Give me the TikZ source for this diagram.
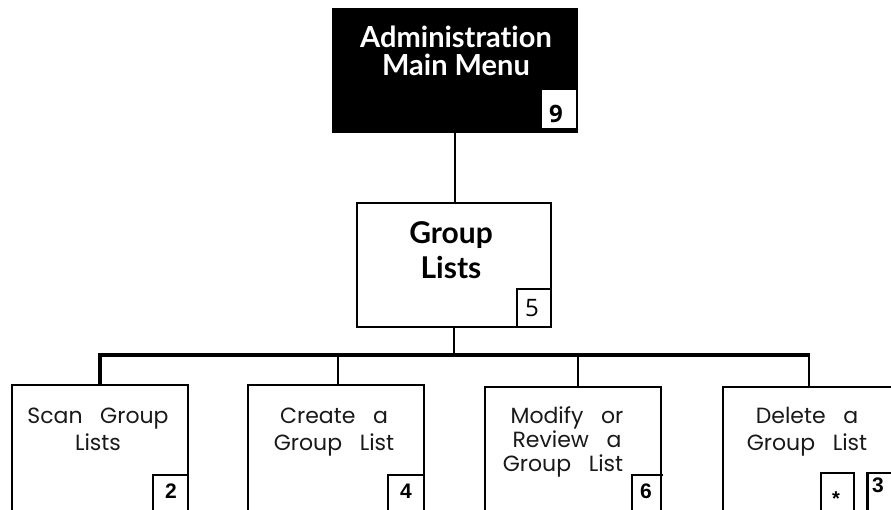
\documentclass[tikz,border=0pt]{standalone}
\usepackage{fontspec}
\setmainfont{Open Sans}
\newfontfamily\titlefont{Lato}[Ligatures={NoCommon}]
\newfontfamily\leaffont{Poppins}
\newfontfamily\numfont{Liberation Sans}
\newcommand{\wsp}{\hspace{0.8em}}
\begin{document}
\begin{tikzpicture}[x=1pt,y=-1pt,
  frame/.style={draw,line width=1.2pt,inner sep=0pt,outer sep=0pt},
  numbox/.style={frame,fill=white},
  titletxt/.style={font=\titlefont\bfseries\fontsize{29}{30}\selectfont,inner sep=0pt,anchor=base},
  grptxt/.style={font=\titlefont\bfseries\fontsize{30}{30}\selectfont,inner sep=0pt,anchor=base},
  leaftxt/.style={font=\leaffont\fontsize{22}{24}\selectfont,inner sep=0pt,anchor=base,text=black!90},
  numtxt/.style={font=\numfont\bfseries\fontsize{21}{24}\selectfont,inner sep=0pt,anchor=base},
  toptxt/.style={font=\bfseries\fontsize{24}{26}\selectfont,inner sep=0pt,anchor=base},
  thinline/.style={line width=1.2pt}
]
\useasboundingbox (0,0) rectangle (891,509);
\clip (0,0) rectangle (891,509);
% top box
\node[fill=black,inner sep=0pt,minimum width=246pt,minimum height=125pt] (top) at (455,70.5) {};
\node[fill=white,inner sep=0pt,minimum width=34pt,minimum height=38pt] (n9) at (559,109) {};
\node[titletxt,text=white] (t1) at (456,47) {Administration};
\node[titletxt,text=white] (t2) at (456,75) {Main Menu};
\node[toptxt] (d9) at (556,122) {9};
% group box
\node[frame,minimum width=194pt,minimum height=124pt] (grp) at (454,265) {};
\node[frame,minimum width=34pt,minimum height=38pt] (n5) at (534,308) {};
\node[grptxt] (g1) at (451,243) {Group};
\node[grptxt] (g2) at (451,278) {Lists};
\node[font=\fontsize{24}{26}\selectfont,inner sep=0pt,anchor=base] (d5) at (532,316) {5};
% leaf boxes
\node[frame,minimum width=176pt,minimum height=160pt] (leaf1) at (100,465) {};
\node[frame,minimum width=176pt,minimum height=160pt] (leaf2) at (336,465) {};
\node[frame,minimum width=176pt,minimum height=160pt] (leaf3) at (573,467) {};
\node[frame,minimum width=176pt,minimum height=160pt] (leaf4) at (811,467) {};
% connectors
\draw[line width=2.2pt] (top.south) -- (top.south |- grp.north);
\coordinate (bus) at (454,355);
\coordinate (b1) at (100,355);
\coordinate (b2) at (338,355);
\coordinate (b3) at (578,355);
\coordinate (b4) at (809,355);
\draw[line width=1.7pt] (grp.south) -- (grp.south |- bus);
\draw[line width=3.5pt] (b1 |- leaf1.north) -- (b1) -- ([xshift=1pt]b4);
\draw[thinline] (b2) -- (b2 |- leaf2.north);
\draw[thinline] (b3) -- (b3 |- leaf3.north);
\draw[thinline] (b4) -- (b4 |- leaf4.north);
% leaf texts
\node[leaftxt] (l1a) at (98,423) {Scan\wsp Group};
\node[leaftxt] (l1b) at (98,450) {Lists};
\node[leaftxt] (l2a) at (334,423) {Create\wsp a};
\node[leaftxt] (l2b) at (334,450) {Group\wsp List};
\node[leaftxt] (l3a) at (567,423) {Modify\wsp or};
\node[leaftxt] (l3b) at (567,447) {Review\wsp a};
\node[leaftxt] (l3c) at (563,471) {Group\wsp List};
\node[leaftxt] (l4a) at (807,423) {Delete\wsp a};
\node[leaftxt] (l4b) at (807,450) {Group\wsp List};
% number boxes
\node[numbox,minimum width=35pt,minimum height=45pt] (n2) at (170.5,497.5) {};
\node[numbox,minimum width=36pt,minimum height=45pt] (n4) at (406,497.5) {};
\node[numbox,minimum width=29pt,minimum height=45pt] (n6) at (646.5,497.5) {};
\draw[thinline] (n6.north east) -- ++(2,0);
\node[numbox,minimum width=33pt,minimum height=47pt] (nst) at (837.5,496.5) {};
\node[numbox,minimum width=38pt,minimum height=47pt] (n3) at (886,496.5) {};
\draw[line width=3pt] (n3.north west) -- (n3.south west);
\node[numtxt] (d2) at (171,498) {2};
\node[numtxt] (d4) at (406,498) {4};
\node[numtxt] (d6) at (646,498) {6};
\node[numtxt,font=\numfont\bfseries\fontsize{20}{22}\selectfont] (dst) at (836,505) {*};
\node[numtxt] (d3) at (878,492) {3};
\end{tikzpicture}
\end{document}
